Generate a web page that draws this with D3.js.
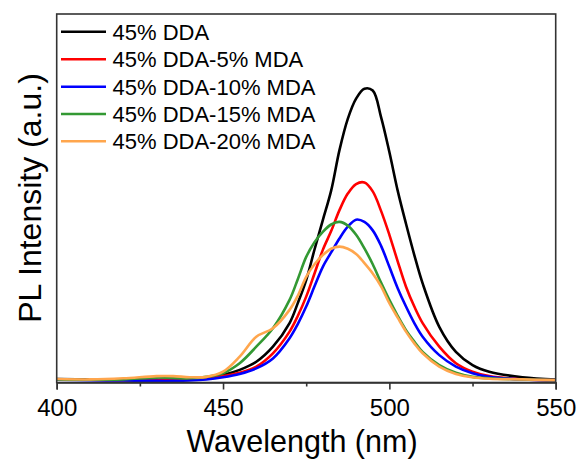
<!DOCTYPE html>
<html>
<head>
<meta charset="utf-8">
<script src="https://cdn.jsdelivr.net/npm/d3@7"></script>
<style>
  html, body { margin: 0; padding: 0; background: #fff; }
  svg { display: block; font-family: "Liberation Sans", Arial, sans-serif; }
</style>
</head>
<body>
<svg id="chart" width="578" height="464"></svg>
<script>
// Wavelength samples (nm)
const wavelengths = [400,410,420,430,435,440,445,450,455,460,465,470,472.5,475,477.5,480,482.5,485,487.5,490,492.5,495,497.5,500,502.5,505,507.5,510,515,520,525,530,540,550];

// PL intensity (a.u.)
const dda45       = [0.8,0.7,0.6,0.6,0.6,0.7,1.0,1.9,3.3,5.5,9.6,16,21.5,27.7,36,44,52,63,71.5,77,79.7,79.2,72,62.5,52,43,34.5,26.8,15,8.2,4.6,2.8,1.3,0.7];
const mda5        = [0.7,0.6,0.5,0.5,0.5,0.6,0.9,1.6,2.5,4.2,7.8,13.7,18,23.2,29.5,35.9,41,46.7,51.2,53.8,54.2,51.8,46.5,40,32.8,25.9,20.5,16,9.6,5.1,2.8,1.6,0.7,0.5];
const mda10       = [0.6,0.5,0.4,0.3,0.3,0.4,0.7,1.3,2.2,3.7,6.4,11.9,15.8,20.5,26,31.3,35.2,39,42.2,44.1,43.5,41.2,37,31.3,25.5,20.5,16,12.3,7.3,4.2,2.4,1.4,0.7,0.5];
const mda15       = [0.7,0.6,0.7,1.2,1.1,1.0,1.4,2.4,5.1,9.6,14.6,22.3,28,34,38,40.8,42.8,43.5,42.5,40,36.3,32,27,22.3,18,14.1,11,8.2,4.6,2.5,1.4,1.0,0.7,0.5];
const mda20       = [0.8,0.7,1.0,1.6,1.6,1.3,1.4,2.8,6.9,12.3,14.6,19.6,23.5,28.6,32,34.5,36.2,36.8,36.2,34.8,32.3,29.5,26,21.4,17.5,13.7,10.5,7.8,4.2,2.2,1.3,0.9,0.7,0.5];

const seriesNames  = ["45% DDA","45% DDA-5% MDA","45% DDA-10% MDA","45% DDA-15% MDA","45% DDA-20% MDA"];
const seriesColors = ["#000000","#ff0000","#0000ff","#339933","#ffa64d"];
const seriesValues = [dda45, mda5, mda10, mda15, mda20];

const majorTicks = [400,450,500,550];
const minorTicks = [425,475,525];

const svg = d3.select("#chart");
const pLeft = 56.7, pRight = 555.7, pTop = 14, pBottom = 382.5;

const x = d3.scaleLinear().domain([400,550]).range([pLeft,pRight]);
const y = d3.scaleLinear().domain([0,100]).range([382,14]);

svg.append("clipPath").attr("id","clip")
  .append("rect").attr("x",pLeft).attr("y",pTop).attr("width",pRight-pLeft).attr("height",pBottom-pTop);

const line = d3.line()
  .x(d => x(d[0]))
  .y(d => y(d[1]))
  .curve(d3.curveCatmullRom.alpha(0.5));

const g = svg.append("g").attr("clip-path","url(#clip)");
seriesValues.forEach((vals, i) => {
  const pts = wavelengths.map((w, j) => [w, vals[j]]);
  g.append("path")
    .attr("d", line(pts))
    .attr("fill","none")
    .attr("stroke", seriesColors[i])
    .attr("stroke-width", 2.6)
    .attr("stroke-linejoin","round");
});

// frame
svg.append("rect")
  .attr("x",pLeft).attr("y",pTop)
  .attr("width",pRight-pLeft).attr("height",pBottom-pTop)
  .attr("fill","none").attr("stroke","#333").attr("stroke-width",1.6);

// bottom axis major
const axis = svg.append("g")
  .attr("transform",`translate(0,${pBottom})`)
  .call(d3.axisBottom(x).tickValues(majorTicks).tickSize(7).tickPadding(9).tickFormat(d3.format("d")));
axis.select(".domain").attr("stroke","#333").attr("stroke-width",1.6);
axis.selectAll(".tick line").attr("stroke","#333").attr("stroke-width",1.6);
axis.selectAll(".tick text")
  .attr("fill","#000")
  .style("font-size","24px")
  .style("font-family","'Liberation Sans', Arial, sans-serif");

// minor ticks
const minorAxis = svg.append("g")
  .attr("transform",`translate(0,${pBottom})`)
  .call(d3.axisBottom(x).tickValues(minorTicks).tickSize(4).tickFormat(""));
minorAxis.select(".domain").remove();
minorAxis.selectAll(".tick line").attr("stroke","#333").attr("stroke-width",1.6);

// axis titles
svg.append("text")
  .attr("x", 302).attr("y", 451.5)
  .attr("text-anchor","middle")
  .style("font-size","30.5px")
  .text("Wavelength (nm)");

svg.append("text")
  .attr("transform","translate(41,198) rotate(-90)")
  .attr("text-anchor","middle")
  .style("font-size","32px")
  .text("PL Intensity (a.u.)");

// legend
const legendRowY = [31.7, 59.3, 86.7, 114, 141.3];
const legend = svg.append("g");
seriesNames.forEach((name, i) => {
  legend.append("line")
    .attr("x1",61).attr("x2",106)
    .attr("y1",legendRowY[i]).attr("y2",legendRowY[i])
    .attr("stroke",seriesColors[i]).attr("stroke-width",2.6);
  legend.append("text")
    .attr("x",112.5).attr("y",legendRowY[i])
    .attr("dy","0.36em")
    .style("font-size","22px")
    .text(name);
});
</script>
</body>
</html>
